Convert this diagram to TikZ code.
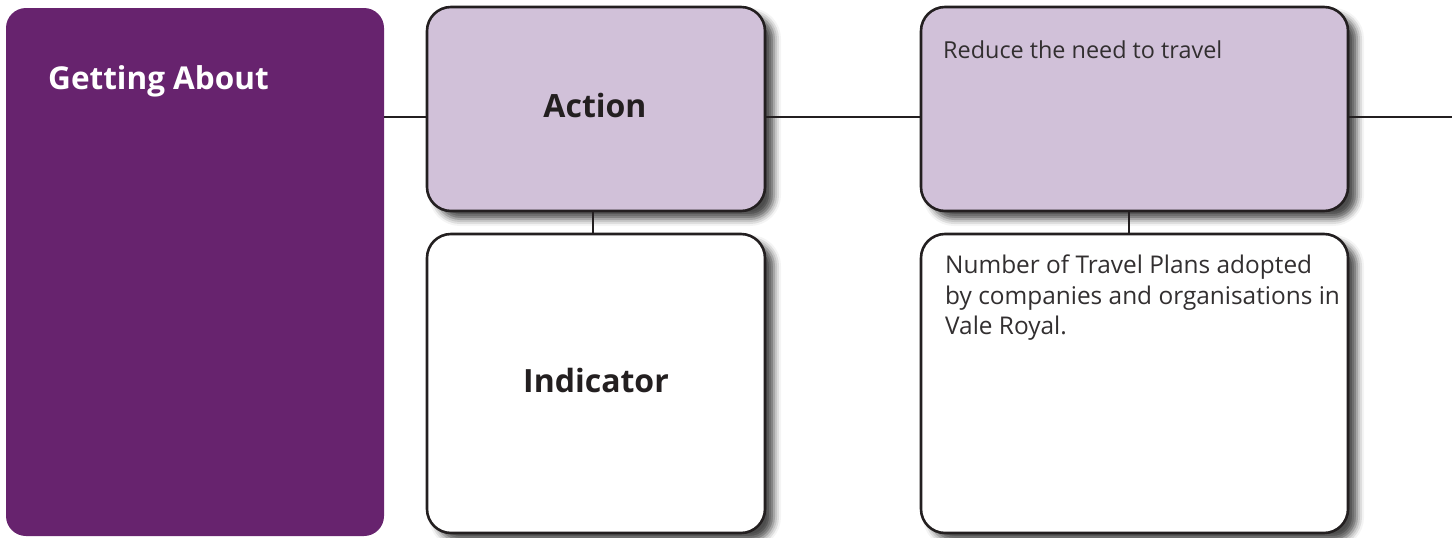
\documentclass[tikz,border=0pt]{standalone}
\usepackage{fontspec}
\setmainfont{Open Sans}
\usetikzlibrary{shadows.blur}
\definecolor{gapurple}{RGB}{103,35,110}
\definecolor{lilac}{RGB}{209,193,217}
\definecolor{ink}{RGB}{35,31,32}
\definecolor{bodytext}{RGB}{50,47,48}
\tikzset{
  card/.style={draw=ink, line width=2.6pt, rounded corners=24pt, inner sep=0pt,
    blur shadow={shadow xshift=9pt, shadow yshift=-8pt, shadow blur radius=7pt, shadow opacity=70}},
  actioncard/.style={card, fill=lilac},
  indcard/.style={card, fill=white},
  link/.style={draw=ink, line width=1.8pt},
  heading/.style={font=\bfseries\fontsize{32}{38}\selectfont, text=ink, inner sep=0pt},
  body/.style={text=bodytext, inner sep=0pt, align=left},
}
\begin{document}
\begin{tikzpicture}[x=1pt,y=-1pt]
\useasboundingbox (0,0) rectangle (1452,538);
% left theme box
\node[fill=gapurple, rounded corners=20pt, minimum width=378pt, minimum height=528pt, inner sep=0pt] (ga) at (195,272) {};
\node[anchor=base west, font=\bfseries\fontsize{31.5}{38}\selectfont, text=white, inner sep=0pt] (gatext) at (48,89) {Getting About};
% cards
\node[actioncard, minimum width=338pt, minimum height=204pt] (act) at (596,109) {};
\node[indcard, minimum width=338pt, minimum height=299pt] (ind) at (596,383.5) {};
\node[actioncard, minimum width=427pt, minimum height=204pt] (red) at (1134.5,109) {};
\node[indcard, minimum width=427pt, minimum height=299pt] (num) at (1134.5,383.5) {};
% labels
\node[heading, anchor=base] (acttext) at (595,117) {Action};
\node[heading, anchor=base] (indtext) at (596,392) {Indicator};
\node[body, font=\fontsize{23.4}{30.5}\selectfont, anchor=base west] (redtext) at (943,58) {Reduce the need to travel};
\node[body, font=\fontsize{24.4}{30.5}\selectfont, anchor=north west] (numtext) at (945,255) {Number of Travel Plans adopted\\by companies and organisations in\\Vale Royal.};
% connectors
\coordinate (rightend) at (1452,117);
\draw[link] (ga.east |- 0,117) -- (act.west |- 0,117);
\draw[link] (act.east |- 0,117) -- (red.west |- 0,117);
\draw[link] (red.east |- 0,117) -- (rightend);
\draw[link] ([xshift=-3pt]act.south) -- ([xshift=-3pt]ind.north);
\draw[link] ([xshift=-5.5pt]red.south) -- ([xshift=-5.5pt]num.north);
\end{tikzpicture}
\end{document}
